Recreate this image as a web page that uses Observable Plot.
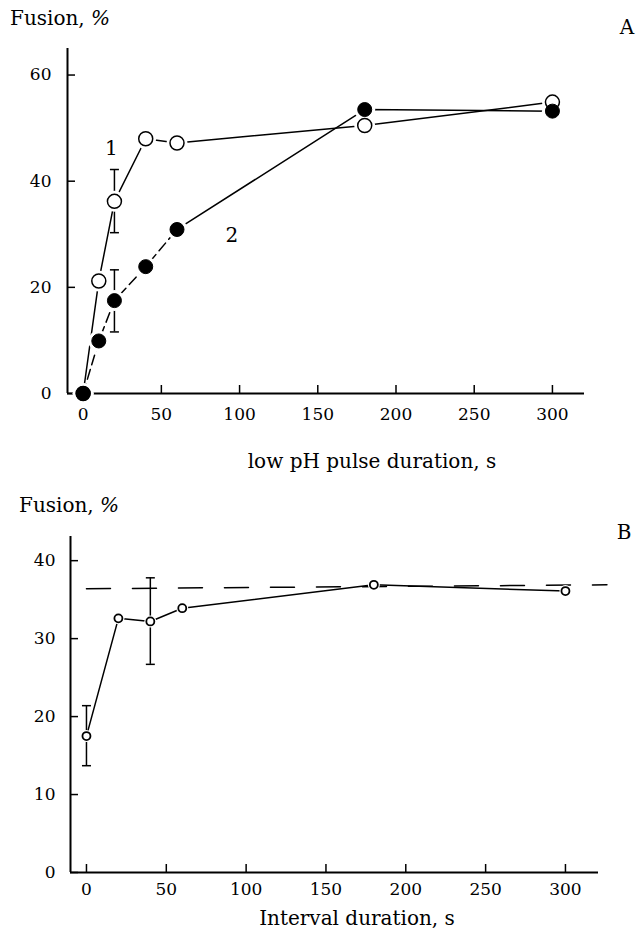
<!DOCTYPE html>
<html><head><meta charset="utf-8">
<script src="https://cdn.jsdelivr.net/npm/d3@7"></script>
<script src="https://cdn.jsdelivr.net/npm/@observablehq/plot@0.6"></script>
<style>
body{margin:0;background:#fff;}
#wrap{position:relative;width:639px;height:945px;font-family:"DejaVu Serif",serif;color:#000;overflow:hidden;}
.t{position:absolute;white-space:nowrap;line-height:1;}
.c{transform:translate(-50%,-50%);}
</style></head><body>
<div id="wrap">
<div id="pa" style="position:absolute;left:0;top:0"></div>
<div id="pb" style="position:absolute;left:0;top:490px"></div>
<div class="t" style="left:10px;top:8px;font-size:20px">Fusion, <i>%</i></div>
<div class="t c" style="left:627px;top:27px;font-size:20px">A</div>
<div class="t c" style="left:372px;top:461px;font-size:20px">low pH pulse duration, s</div>
<div class="t" style="left:19px;top:495px;font-size:20px">Fusion, <i>%</i></div>
<div class="t c" style="left:624px;top:532px;font-size:20px">B</div>
<div class="t c" style="left:357px;top:918px;font-size:20px">Interval duration, s</div>
</div>
<script>
// Panel A: fusion vs low pH pulse duration
const durationA = [0, 10, 20, 40, 60, 180, 300];
const fusionA1 = [0, 21.2, 36.2, 48.0, 47.2, 50.5, 54.9];   // curve 1, open circles
const fusionA2 = [0, 9.9, 17.5, 23.9, 30.9, 53.5, 53.2];    // curve 2, filled circles
const errXA = [20, 20];
const errLoA = [30.3, 11.6];
const errHiA = [42.2, 23.3];
const curveLabels = ["1", "2"];
const curveLabelX = [18, 95];
const curveLabelY = [46.2, 29.8];
const ticksXA = [0, 50, 100, 150, 200, 250, 300];
const ticksYA = [0, 20, 40, 60];

// Panel B: fusion vs interval duration
const intervalB = [0, 20, 40, 60, 180, 300];
const fusionB = [17.5, 32.6, 32.2, 33.9, 36.9, 36.1];
const errXB = [0, 40];
const errLoB = [13.7, 26.7];
const errHiB = [21.4, 37.8];
const controlX = [0, 326];
const controlY = [36.4, 36.9];
const ticksXB = [0, 50, 100, 150, 200, 250, 300];
const ticksYB = [0, 10, 20, 30, 40];

const FONT = "'DejaVu Serif', serif";
const capSym = {draw(ctx, size){ const r = Math.sqrt(size/Math.PI); ctx.moveTo(-r,0); ctx.lineTo(r,0); }};

const A1 = durationA.map((x,i)=>({x, y: fusionA1[i]}));
const A2 = durationA.map((x,i)=>({x, y: fusionA2[i]}));
const EA = errXA.map((x,i)=>({x, lo: errLoA[i], hi: errHiA[i]}));
const capsA = EA.flatMap(d=>[{x:d.x,y:d.lo},{x:d.x,y:d.hi}]);
const LA = curveLabels.map((t,i)=>({t, x: curveLabelX[i], y: curveLabelY[i]}));

const plotA = Plot.plot({
  width: 639, height: 440,
  marginLeft: 67, marginRight: 55, marginTop: 48, marginBottom: 47,
  x: {domain: [-10, 320.5]},
  y: {domain: [0, 65]},
  style: {fontFamily: FONT, fontSize: "17px", color: "#000", background: "transparent"},
  marks: [
    Plot.axisX(ticksXA, {tickSize: -8, tickPadding: 22, strokeWidth: 1.5, label: null}),
    Plot.axisY(ticksYA, {tickSize: -8, tickPadding: 24, strokeWidth: 1.5, label: null}),
    Plot.ruleY([0], {strokeWidth: 2}),
    Plot.ruleX([-10], {strokeWidth: 2}),
    Plot.line(A1, {x: "x", y: "y", strokeWidth: 1.5}),
    Plot.line(A2.filter(d=>d.x<=60), {x: "x", y: "y", strokeWidth: 1.5, strokeDasharray: "10,5"}),
    Plot.line(A2.filter(d=>d.x>=60), {x: "x", y: "y", strokeWidth: 1.5}),
    Plot.ruleX(EA, {x: "x", y1: "lo", y2: "hi", strokeWidth: 1.5}),
    Plot.dot(capsA, {x: "x", y: "y", symbol: capSym, r: 4.5, stroke: "#000", strokeWidth: 1.5}),
    Plot.dot([...A1, ...A2], {x: "x", y: "y", r: 10.5, fill: "#fff"}),
    Plot.dot(A1, {x: "x", y: "y", r: 7, fill: "#fff", stroke: "#000", strokeWidth: 1.5}),
    Plot.dot(A2, {x: "x", y: "y", r: 7, fill: "#000", stroke: "#000", strokeWidth: 1}),
    Plot.text(LA, {x: "x", y: "y", text: "t", fontSize: 20})
  ]
});
document.getElementById("pa").append(plotA);

const B = intervalB.map((x,i)=>({x, y: fusionB[i]}));
const EB = errXB.map((x,i)=>({x, lo: errLoB[i], hi: errHiB[i]}));
const capsB = EB.flatMap(d=>[{x:d.x,y:d.lo},{x:d.x,y:d.hi}]);
const CB = controlX.map((x,i)=>({x, y: controlY[i]}));

const plotB = Plot.plot({
  width: 639, height: 430,
  marginLeft: 70, marginRight: 41, marginTop: 46, marginBottom: 48,
  x: {domain: [-10, 320.7]},
  y: {domain: [0, 43.1]},
  style: {fontFamily: FONT, fontSize: "17px", color: "#000", background: "transparent"},
  marks: [
    Plot.axisX(ticksXB, {tickSize: -8, tickPadding: 18, strokeWidth: 1.5, label: null}),
    Plot.axisY(ticksYB, {tickSize: -8, tickPadding: 23, strokeWidth: 1.5, label: null}),
    Plot.ruleY([0], {strokeWidth: 2}),
    Plot.ruleX([-10], {strokeWidth: 2}),
    Plot.line(CB, {x: "x", y: "y", strokeWidth: 1.5, strokeDasharray: "24,22"}),
    Plot.line(B, {x: "x", y: "y", strokeWidth: 1.5}),
    Plot.ruleX(EB, {x: "x", y1: "lo", y2: "hi", strokeWidth: 1.5}),
    Plot.dot(capsB, {x: "x", y: "y", symbol: capSym, r: 4.5, stroke: "#000", strokeWidth: 1.5}),
    Plot.dot(B, {x: "x", y: "y", r: 6, fill: "#fff"}),
    Plot.dot(B, {x: "x", y: "y", r: 4, fill: "#fff", stroke: "#000", strokeWidth: 1.8})
  ]
});
document.getElementById("pb").append(plotB);
</script>
</body></html>
